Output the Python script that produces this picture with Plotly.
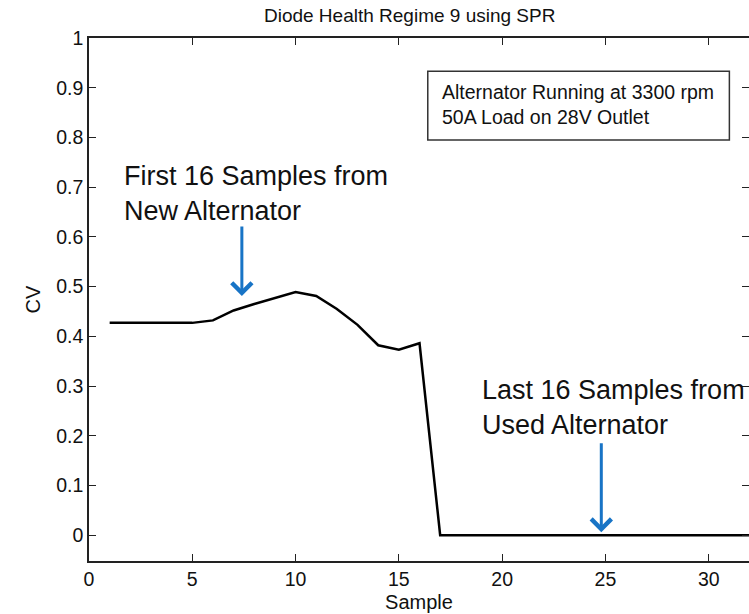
import plotly.graph_objects as go

samples = list(range(1, 33))
cv = [0.427, 0.427, 0.427, 0.427, 0.427, 0.432, 0.452, 0.465, 0.477, 0.489,
      0.481, 0.455, 0.423, 0.382, 0.373, 0.386] + [0.0] * 16
x_ticks = [0, 5, 10, 15, 20, 25, 30]
y_ticks = [0, 0.1, 0.2, 0.3, 0.4, 0.5, 0.6, 0.7, 0.8, 0.9, 1]
y_tick_text = ["0", "0.1", "0.2", "0.3", "0.4", "0.5", "0.6", "0.7", "0.8", "0.9", "1"]

FONT = "Liberation Sans, Arial, sans-serif"
BLUE = "#1874C6"

fig = go.Figure()
fig.add_trace(go.Scatter(x=samples, y=cv, mode="lines",
                         line=dict(color="black", width=2.5), showlegend=False,
                         hoverinfo="skip"))
fig.add_trace(go.Scatter(x=[0], y=[0], yaxis="y2", mode="markers",
                         marker=dict(opacity=0), showlegend=False, hoverinfo="skip"))

fig.update_layout(
    width=749, height=614,
    margin=dict(l=89, r=0, t=38, b=53),
    plot_bgcolor="white", paper_bgcolor="white",
    font=dict(family=FONT, size=19.5, color="#111"),
    title=dict(text="Diode Health Regime 9 using SPR", x=0.547, xanchor="center",
               y=0.975, yanchor="middle", font=dict(size=19, color="#111")),
    xaxis=dict(range=[0, 31.95], tickvals=x_ticks, ticks="inside", ticklen=7,
               tickcolor="#222", showline=True, linecolor="#222", linewidth=1.5,
               mirror="ticks", showgrid=False, zeroline=False,
               title=dict(text="Sample", standoff=6, font=dict(size=20))),
    yaxis=dict(range=[-0.052, 1], tickvals=y_ticks, ticktext=y_tick_text,
               ticks="inside", ticklen=7, tickcolor="#222", showline=True,
               linecolor="#222", linewidth=1.5, showgrid=False, zeroline=False,
               title=dict(text="CV", standoff=10, font=dict(size=20))),
    yaxis2=dict(range=[-0.052, 1], tickvals=y_ticks, overlaying="y", side="right",
                ticks="inside", ticklen=7, tickcolor="#222", showline=False,
                showticklabels=False, showgrid=False, zeroline=False),
)

# info box
fig.add_shape(type="rect", x0=16.4, x1=31.0, y0=0.795, y1=0.933,
              line=dict(color="#333", width=1.5), fillcolor="white")
fig.add_annotation(x=16.98, y=0.866, xref="x", yref="y", xanchor="left",
                   yanchor="middle", align="left", showarrow=False,
                   text="Alternator Running at 3300 rpm<br>50A Load on 28V Outlet",
                   font=dict(size=19.5, color="#111"))

# text annotations
fig.add_annotation(x=1.62, y=0.687, xref="x", yref="y", xanchor="left",
                   yanchor="middle", align="left", showarrow=False,
                   text="First 16 Samples from<br>New Alternator",
                   font=dict(size=27, color="#111"))
fig.add_annotation(x=18.95, y=0.256, xref="x", yref="y", xanchor="left",
                   yanchor="middle", align="left", showarrow=False,
                   text="Last 16 Samples from<br>Used Alternator",
                   font=dict(size=27, color="#111"))

# arrows
fig.add_annotation(x=7.4, y=0.481, ax=7.4, ay=0.624, xref="x", yref="y",
                   axref="x", ayref="y", showarrow=True, arrowhead=4,
                   arrowsize=1.3, arrowwidth=3, arrowcolor=BLUE, text="")
fig.add_annotation(x=24.8, y=0.006, ax=24.8, ay=0.188, xref="x", yref="y",
                   axref="x", ayref="y", showarrow=True, arrowhead=4,
                   arrowsize=1.3, arrowwidth=3, arrowcolor=BLUE, text="")

fig.write_html("out.html")
